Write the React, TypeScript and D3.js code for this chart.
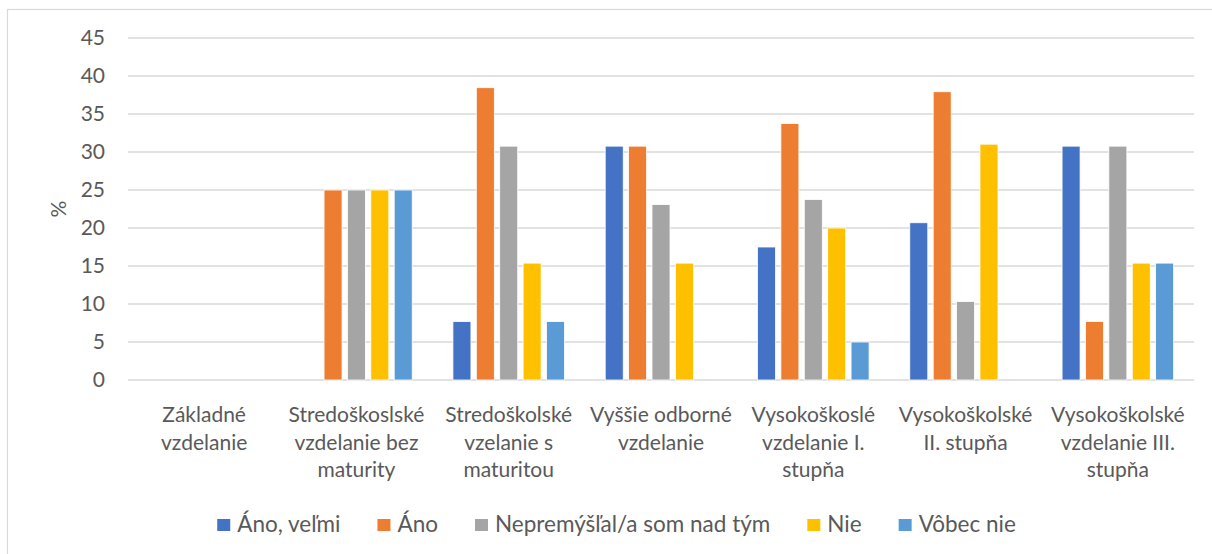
import React, { useEffect, useRef } from "react";
import * as d3 from "d3";

// education levels (label lines as wrapped in the original)
const categories = [
  ["Základné", "vzdelanie"],
  ["Stredoškoslské", "vzdelanie bez", "maturity"],
  ["Stredoškolské", "vzelanie s", "maturitou"],
  ["Vyššie odborné", "vzdelanie"],
  ["Vysokoškoslé", "vzdelanie I.", "stupňa"],
  ["Vysokoškolské", "II. stupňa"],
  ["Vysokoškolské", "vzdelanie III.", "stupňa"],
];

const seriesNames = ["Áno, veľmi", "Áno", "Nepremýšľal/a som nad tým", "Nie", "Vôbec nie"];
const seriesColors = ["#4472C4", "#ED7D31", "#A5A5A5", "#FFC000", "#5B9BD5"];

// values in %, one array per series, one value per category
const anoVelmi = [0, 0, 7.69, 30.77, 17.5, 20.69, 30.77];
const ano = [0, 25, 38.46, 30.77, 33.75, 37.93, 7.69];
const nepremyslal = [0, 25, 30.77, 23.08, 23.75, 10.34, 30.77];
const nie = [0, 25, 15.38, 15.38, 20, 31.03, 15.38];
const vobecNie = [0, 25, 7.69, 0, 5, 0, 15.38];

const yTicks = [0, 5, 10, 15, 20, 25, 30, 35, 40, 45];

const App = () => {
  const ref = useRef<SVGSVGElement | null>(null);

  useEffect(() => {
    const width = 1212,
      height = 554;
    const plot = { left: 128, right: 1194, top: 38, bottom: 380 };
    const font = "Lato, 'Open Sans', sans-serif";
    const textColor = "#595959";

    const svg = d3.select(ref.current);
    svg.selectAll("*").remove();
    svg.attr("width", width).attr("height", height);

    const values = [anoVelmi, ano, nepremyslal, nie, vobecNie];
    const catIdx = categories.map((_, i) => i);

    // outer chart border (runs off the right and bottom edges)
    svg
      .append("rect")
      .attr("x", 7.5)
      .attr("y", 9.5)
      .attr("width", 1400)
      .attr("height", 700)
      .attr("fill", "#fff")
      .attr("stroke", "#D9D9D9")
      .attr("stroke-width", 1.2);

    const x0 = d3.scaleBand<number>().domain(catIdx).range([plot.left, plot.right]);
    const x1 = d3
      .scaleBand<number>()
      .domain(seriesNames.map((_, i) => i))
      .range([0, x0.bandwidth()])
      .paddingInner(0.23)
      .paddingOuter(0.87);
    const y = d3.scaleLinear().domain([0, 45]).range([plot.bottom, plot.top]);

    // gridlines
    svg
      .append("g")
      .selectAll("line")
      .data(yTicks)
      .enter()
      .append("line")
      .attr("x1", plot.left)
      .attr("x2", plot.right)
      .attr("y1", (d) => y(d))
      .attr("y2", (d) => y(d))
      .attr("stroke", "#D9D9D9")
      .attr("stroke-width", 1.3);

    // y tick labels
    svg
      .append("g")
      .selectAll("text")
      .data(yTicks)
      .enter()
      .append("text")
      .attr("x", 105)
      .attr("y", (d) => y(d))
      .attr("dy", "0.35em")
      .attr("text-anchor", "end")
      .attr("fill", textColor)
      .style("font-family", font)
      .style("font-size", "21px")
      .text((d) => d);

    // y axis title
    svg
      .append("text")
      .attr("transform", `translate(66,${(plot.top + plot.bottom) / 2}) rotate(-90)`)
      .attr("text-anchor", "middle")
      .attr("fill", textColor)
      .style("font-family", font)
      .style("font-size", "21px")
      .text("%");

    // bars
    const groups = svg
      .append("g")
      .selectAll("g")
      .data(values)
      .enter()
      .append("g")
      .attr("fill", (_, i) => seriesColors[i]);

    groups
      .selectAll("rect")
      .data((vals, si) => vals.map((v, ci) => ({ v, ci, si })))
      .enter()
      .filter((d) => d.v > 0)
      .append("rect")
      .attr("x", (d) => (x0(d.ci) ?? 0) + (x1(d.si) ?? 0))
      .attr("y", (d) => y(d.v))
      .attr("width", x1.bandwidth())
      .attr("height", (d) => y(0) - y(d.v))
      .attr("stroke", "#fff")
      .attr("stroke-width", 0.8);

    // category labels
    const catLabels = svg
      .append("g")
      .selectAll("text")
      .data(categories)
      .enter()
      .append("text")
      .attr("text-anchor", "middle")
      .attr("fill", textColor)
      .style("font-family", font)
      .style("font-size", "21px");
    catLabels
      .selectAll("tspan")
      .data((lines, ci) => lines.map((l) => ({ l, ci })))
      .enter()
      .append("tspan")
      .attr("x", (d) => (x0(d.ci) ?? 0) + x0.bandwidth() / 2)
      .attr("y", (_, i) => 422 + i * 27.5)
      .text((d) => d.l);

    // legend, centred
    const legend = svg.append("g");
    const items = legend
      .selectAll("g")
      .data(seriesNames)
      .enter()
      .append("g");
    items
      .append("rect")
      .attr("width", 13)
      .attr("height", 12)
      .attr("y", 519)
      .attr("fill", (_, i) => seriesColors[i]);
    const labels = items
      .append("text")
      .attr("x", 20)
      .attr("y", 532)
      .attr("fill", textColor)
      .style("font-family", font)
      .style("font-size", "22.5px")
      .text((d) => d);

    const widths: number[] = [];
    labels.each(function () {
      widths.push((this as SVGTextElement).getComputedTextLength());
    });
    const gap = 37;
    const total = d3.sum(widths.map((w) => 20 + w)) + gap * (widths.length - 1);
    let cx = 616.5 - total / 2;
    items.attr("transform", (_, i) => {
      const t = `translate(${cx},0)`;
      cx += 20 + widths[i] + gap;
      return t;
    });
  }, []);

  return (
    <div style={{ position: "absolute", left: 0, top: 0 }}>
      <svg ref={ref} style={{ display: "block" }}></svg>
    </div>
  );
};

export default App;
